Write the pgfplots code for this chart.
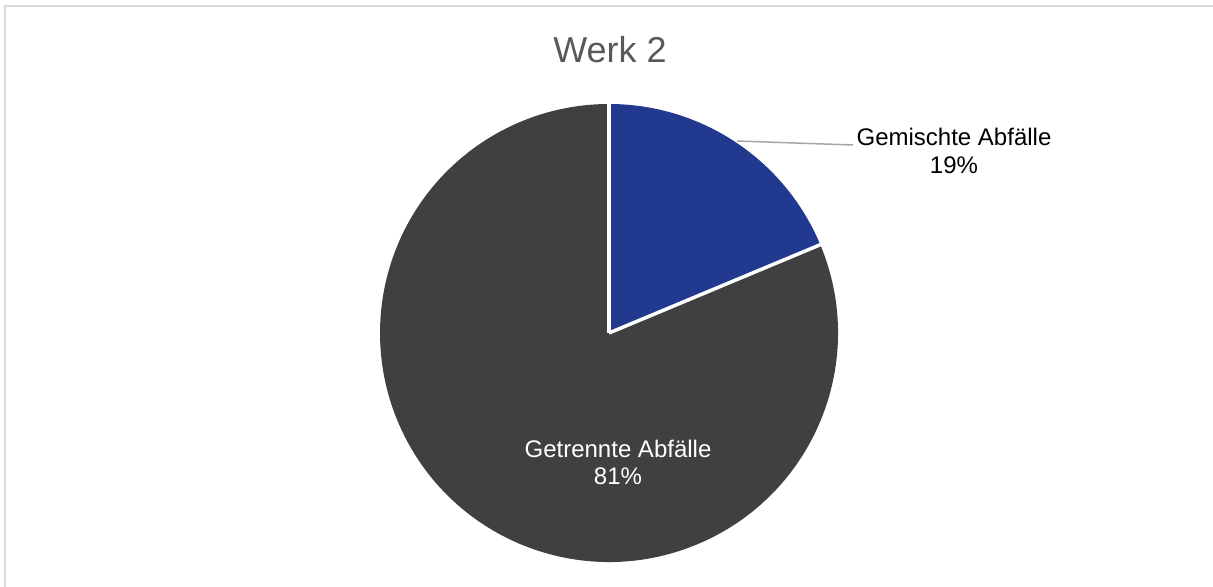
\documentclass[border=0pt]{standalone}
\usepackage{pgfplots}
\pgfplotsset{compat=1.18}
\usepackage{pgfplotstable}
\usepackage{fontspec}
\setmainfont{Liberation Sans}
\definecolor{pieblue}{HTML}{213A8F}
\definecolor{piegray}{HTML}{404040}
\definecolor{titlegray}{HTML}{595959}
\definecolor{framegray}{HTML}{D9D9D9}
\definecolor{leadergray}{HTML}{A6A6A6}

\pgfplotstableread{
name value
Gemischte 18.7
Getrennte 81.3
}\piedata

\begin{document}
\begin{tikzpicture}
\pgfplotstablegetelem{0}{value}\of\piedata \let\va\pgfplotsretval
\pgfplotstablegetelem{1}{value}\of\piedata \let\vb\pgfplotsretval
\pgfmathsetmacro\aA{90}
\pgfmathsetmacro\aB{90-360*(\va/(\va+\vb))}
\pgfmathsetmacro\aC{\aB-360*(\vb/(\va+\vb))}
\pgfmathtruncatemacro\pa{round(100*\va/(\va+\vb))}
\pgfmathtruncatemacro\pb{round(100*\vb/(\va+\vb))}
\begin{axis}[hide axis, scale only axis, width=1213bp, height=587bp,
  xmin=0, xmax=1213, ymin=0, ymax=587, y dir=reverse, clip=false]
\addplot[draw=none, forget plot] coordinates {(609,333)};
% frame (top and left only visible)
\draw[framegray, line width=2bp] (axis cs:5,600) -- (axis cs:5,6.5) -- (axis cs:1230,6.5);
% slices
\fill[pieblue] (axis cs:609,333) -- ++(\aA:229bp) arc[start angle=\aA, end angle=\aB, radius=229bp] -- cycle;
\fill[piegray] (axis cs:609,333) -- ++(\aB:229bp) arc[start angle=\aB, end angle=\aC, radius=229bp] -- cycle;
\draw[white, line width=3.5bp] (axis cs:609,333) -- ++(\aA:230bp);
\draw[white, line width=3.5bp] (axis cs:609,333) -- ++(\aB:230bp);
% leader line
\draw[leadergray, line width=1.5bp] (axis cs:737,141) -- (axis cs:853,145);
% title
\node[anchor=base, text=titlegray, font=\fontsize{36bp}{43bp}\selectfont, inner sep=0pt] at (axis cs:610,63) {Werk 2};
% labels
\node[anchor=base, text=black, font=\fontsize{24bp}{29bp}\selectfont, inner sep=0pt] at (axis cs:954,145) {Gemischte Abfälle};
\node[anchor=base, text=black, font=\fontsize{24bp}{29bp}\selectfont, inner sep=0pt] at (axis cs:954,173) {\pa\%};
\node[anchor=base, text=white, font=\fontsize{24bp}{29bp}\selectfont, inner sep=0pt] at (axis cs:618,457) {Getrennte Abfälle};
\node[anchor=base, text=white, font=\fontsize{24bp}{29bp}\selectfont, inner sep=0pt] at (axis cs:618,484) {\pb\%};
\end{axis}
\pgfresetboundingbox
\useasboundingbox (0,0) rectangle (1213bp,587bp);
\end{tikzpicture}
\end{document}
